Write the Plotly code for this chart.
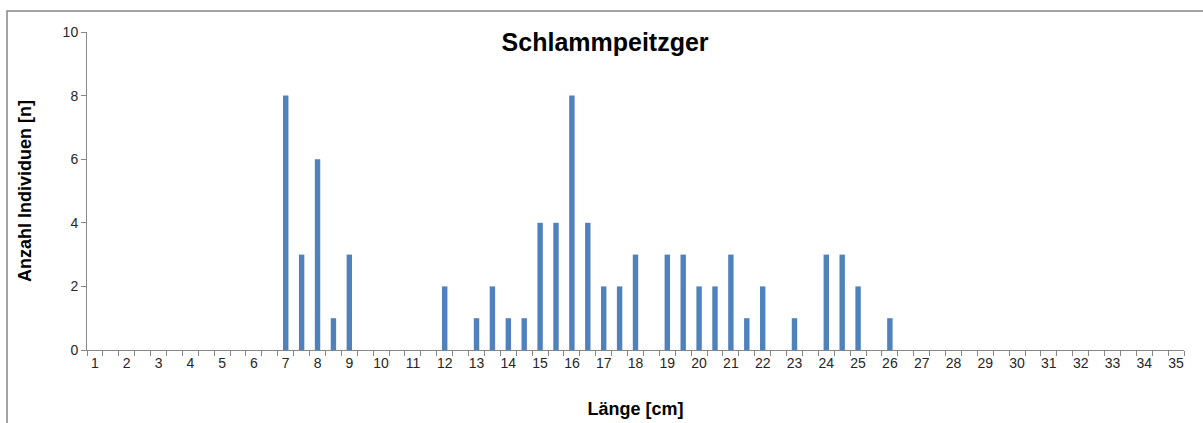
import plotly.graph_objects as go

# Länge in halben cm-Schritten (Kategorien der x-Achse)
lengths = ["1", "1.5", "2", "2.5", "3", "3.5", "4", "4.5", "5", "5.5", "6", "6.5",
           "7", "7.5", "8", "8.5", "9", "9.5", "10", "10.5", "11", "11.5", "12", "12.5",
           "13", "13.5", "14", "14.5", "15", "15.5", "16", "16.5", "17", "17.5", "18", "18.5",
           "19", "19.5", "20", "20.5", "21", "21.5", "22", "22.5", "23", "23.5", "24", "24.5",
           "25", "25.5", "26", "26.5", "27", "27.5", "28", "28.5", "29", "29.5", "30", "30.5",
           "31", "31.5", "32", "32.5", "33", "33.5", "34", "34.5", "35"]

counts = [0, 0, 0, 0, 0, 0, 0, 0, 0, 0, 0, 0,
          8, 3, 6, 1, 3, 0, 0, 0, 0, 0, 2, 0,
          1, 2, 1, 1, 4, 4, 8, 4, 2, 2, 3, 0,
          3, 3, 2, 2, 3, 1, 2, 0, 1, 0, 3, 3,
          2, 0, 1, 0, 0, 0, 0, 0, 0, 0, 0, 0,
          0, 0, 0, 0, 0, 0, 0, 0, 0]

# nur ganze cm beschriften
tick_text = [s if "." not in s else "" for s in lengths]

fig = go.Figure(go.Bar(
    x=lengths,
    y=counts,
    marker=dict(color="#4F81BD", line=dict(width=0)),
))

axis_grey = "#868686"
font = "Liberation Sans, Arial, sans-serif"

fig.update_layout(
    width=1203, height=423,
    margin=dict(l=87, r=19, t=32, b=73),
    paper_bgcolor="white", plot_bgcolor="white",
    bargap=0.66,
    showlegend=False,
    font=dict(family=font, color="#333333", size=14),
    title=dict(text="<b>Schlammpeitzger</b>", x=0.503, xanchor="center",
               y=1 - 42 / 423, yanchor="middle", yref="container",
               font=dict(size=25, color="#000000")),
    xaxis=dict(
        type="category", categoryorder="array", categoryarray=lengths,
        tickmode="array", tickvals=lengths, ticktext=tick_text, tickangle=0,
        tickson="boundaries", ticks="outside", ticklen=5, tickcolor=axis_grey,
        showline=True, linecolor=axis_grey, linewidth=1,
        showgrid=False, zeroline=False, automargin=False,
        tickfont=dict(size=14, color="#262626"),
        title=dict(text="<b>Länge [cm]</b>", standoff=32,
                   font=dict(size=18, color="#000000")),
    ),
    yaxis=dict(
        range=[0, 10], dtick=2, tickformat="d",
        ticks="outside", ticklen=5, tickcolor=axis_grey,
        showline=True, linecolor=axis_grey, linewidth=1,
        showgrid=False, zeroline=False, automargin=False,
        tickfont=dict(size=14, color="#262626"),
        title=dict(text="<b>Anzahl Individuen [n]</b>", standoff=26,
                   font=dict(size=18, color="#000000")),
    ),
    shapes=[dict(type="rect", xref="paper", yref="paper",
                 x0=(7 - 87) / 1097, x1=1.05, y0=-0.3, y1=(350 - 11) / 318,
                 line=dict(color=axis_grey, width=1.5), layer="below")],
)

fig.write_html("out.html", config={"displayModeBar": False},
               post_script="document.body.style.margin='0';")
